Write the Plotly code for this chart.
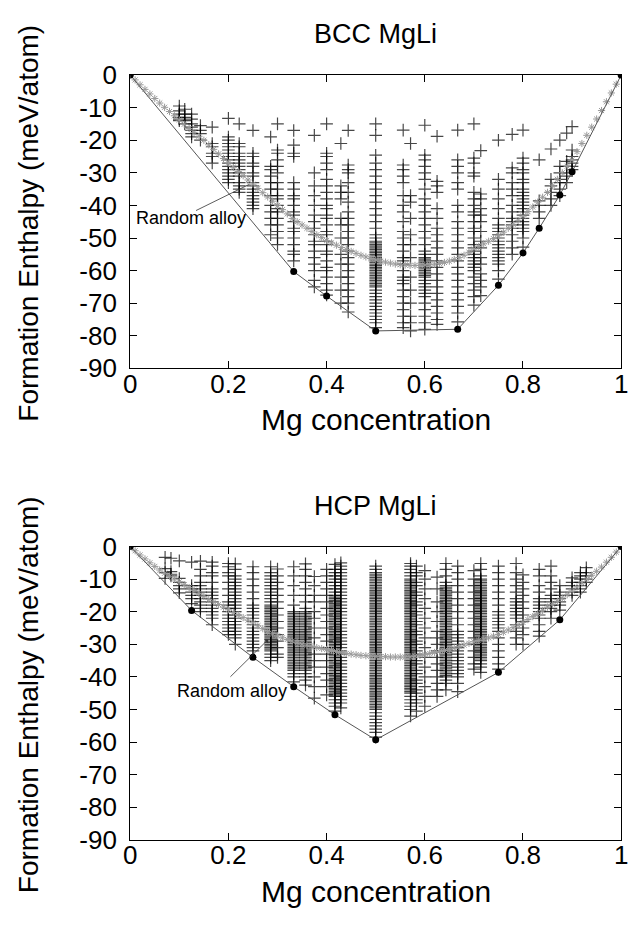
import plotly.graph_objects as go

# ---------------- data ----------------
x_ticks = [0, 0.2, 0.4, 0.6, 0.8, 1]
x_tick_text = ["0", "0.2", "0.4", "0.6", "0.8", "1"]
y_ticks = [0, -10, -20, -30, -40, -50, -60, -70, -80, -90]
y_tick_text = ["0", "-10", "-20", "-30", "-40", "-50", "-60", "-70", "-80", "-90"]

# BCC: structure energies by Mg concentration
bcc_conc = [0.100, 0.111, 0.125, 0.143, 0.167, 0.200, 0.222, 0.250, 0.286, 0.300,
            0.333, 0.375, 0.400, 0.429, 0.444, 0.500, 0.556, 0.571, 0.600, 0.625,
            0.667, 0.700, 0.714, 0.750, 0.778, 0.800, 0.833, 0.857, 0.875, 0.889, 0.900]
bcc_energies = [
    [-9.5, -11, -12, -13, -13.5, -14],
    [-10.5, -12, -13, -14, -15],
    [-12, -13.5, -15, -16, -17, -18, -19],
    [-15.5, -17, -18, -20],
    [-16, -21, -22, -24, -25, -27],
    [-13.3, -19, -20, -21, -22, -23, -24, -25, -26, -27, -28, -29, -30, -31, -32, -33],
    [-15, -21, -22, -24, -25, -26, -27, -28, -29, -30, -31, -33, -34, -35, -36],
    [-17, -24, -25, -27, -28, -30, -31, -33, -34, -35, -36, -37, -38, -39, -40, -41],
    [-19, -28, -29, -31, -33, -35, -37, -40, -42, -44, -46, -49],
    [-15, -23, -24, -26, -28, -30, -33, -35, -37, -38, -40, -41, -42, -44, -46, -48, -50, -52],
    [-17, -21.5, -24, -25, -33, -35, -37, -38, -40, -42, -43, -45, -47, -48, -50, -52, -54, -55, -57],
    [-18.5, -30, -34, -37, -40, -43, -45, -47, -49, -51, -52, -54, -56, -58, -60, -63, -65],
    [-15, -24, -25, -27, -29, -32, -34, -36, -38, -40, -41, -43, -44, -46, -48, -49, -51, -52,
     -54, -55, -57, -59, -60, -62, -64, -66, -67.5],
    [-21, -34, -36, -38, -44, -46, -50, -55, -58, -62, -66, -70],
    [-17, -27.6, -29, -30, -33, -36, -39, -42, -44, -46, -48, -50, -52, -54, -56, -58, -60, -62,
     -64, -66, -68, -70, -72.7],
    [-15, -18.5, -24.6, -27, -29, -31, -33, -35, -37, -39, -41, -43, -45, -47, -49, -50, -51,
     -51.5, -52, -52.5, -53, -53.5, -54, -54.5, -55, -55.5, -56, -56.5, -57, -57.5, -58, -58.5,
     -59, -59.5, -60, -60.5, -61, -61.5, -62, -62.5, -63, -63.5, -64, -64.5, -65, -66, -67,
     -68, -69, -70, -71, -72, -73, -74, -75, -76, -77.5],
    [-16.9, -27.6, -29, -31, -33, -37, -40, -42, -45, -48, -50, -52, -54, -56, -57, -58, -60,
     -62, -63, -64, -66, -68, -70, -72, -74, -76, -77.5],
    [-21, -37, -39, -44, -49, -52, -56, -62, -66, -70, -74, -76, -78.5],
    [-15.4, -24.6, -26, -28, -30, -32, -35, -38, -40, -42, -44, -46, -48, -50, -52, -54, -55,
     -56, -56.5, -57, -57.5, -58, -58.5, -59, -59.5, -60, -60.5, -61, -61.5, -62, -63, -64,
     -65, -66, -67, -68, -70, -72, -74, -76, -78],
    [-18.8, -32.6, -34, -36, -41, -44, -47, -49, -51, -53, -55, -57, -59, -61, -63, -65, -67,
     -69, -71, -73, -75, -76.5],
    [-16.9, -26, -28, -30, -33, -35, -40, -42, -45, -47, -49, -51, -53, -55, -57, -59, -61, -63,
     -65, -67, -69, -71, -73, -75.7],
    [-15, -25.5, -27, -30, -31, -36, -38, -40, -42, -43, -45, -47, -48, -50, -52, -53, -54, -55,
     -56, -57, -58, -59, -60, -62, -64, -66, -68, -70.6],
    [-23.2, -36.5, -38, -41, -43, -45, -48, -51, -53, -56, -58, -61, -63, -65, -67.7],
    [-20, -32, -35, -38, -41, -44, -46, -47, -48, -49, -50, -51, -52, -53, -54, -55, -56, -57,
     -58, -60, -62.6],
    [-18.2, -28.5, -30, -33, -35, -37, -40, -42, -44, -45, -46, -47, -49, -51, -53, -55],
    [-16.9, -25.5, -27, -29, -30, -32, -33, -35, -36, -37, -38, -39, -40, -41, -42, -43, -44,
     -45, -46, -47, -48, -50, -52.8],
    [-26, -38.6, -40, -42, -44],
    [-22.7, -32, -34, -36, -38, -40],
    [-20, -28, -30, -32, -33, -35, -37],
    [-17.8, -26.5, -28, -30, -31, -33],
    [-15.8, -23, -25, -26, -27, -28, -29],
]
bcc_hull_x = [0, 0.333, 0.4, 0.5, 0.667, 0.75, 0.8, 0.833, 0.875, 0.9, 1]
bcc_hull_e = [0, -60.3, -67.8, -78.5, -78.0, -64.5, -54.6, -47.0, -36.8, -29.7, 0]

rand_x = [i / 100 for i in range(101)]
bcc_rand_e = [0, -1.5, -3.0, -4.4, -5.8, -7.2, -8.6, -9.9, -11.2, -12.5,
              -13.8, -15.1, -16.4, -17.6, -18.8, -20.0, -21.4, -22.8, -24.2, -25.6,
              -27.0, -28.3, -29.6, -30.9, -32.2, -33.5, -34.8, -36.1, -37.4, -38.7,
              -40.0, -41.3, -42.6, -44.0, -45.0, -46.0, -47.0, -48.0, -49.0, -49.9,
              -50.8, -51.5, -52.2, -52.9, -53.5, -54.1, -54.7, -55.3, -55.8, -56.3,
              -56.7, -57.1, -57.4, -57.7, -58.0, -58.2, -58.3, -58.4, -58.4, -58.4,
              -58.3, -58.2, -58.0, -57.8, -57.5, -57.1, -56.6, -56.0, -55.3, -54.4,
              -53.4, -52.6, -51.8, -51.0, -50.2, -49.3, -48.2, -47.0, -45.8, -44.6,
              -43.3, -41.9, -40.5, -39.0, -37.5, -36.0, -34.0, -32.0, -30.0, -28.0,
              -26.0, -23.5, -21.0, -18.5, -16.0, -13.5, -10.9, -8.2, -5.5, -2.8, 0]

# HCP
hcp_conc = [0.071, 0.083, 0.100, 0.125, 0.143, 0.167, 0.200, 0.214, 0.250, 0.286, 0.300,
            0.333, 0.357, 0.375, 0.400, 0.417, 0.429, 0.500, 0.571, 0.583, 0.600, 0.625,
            0.643, 0.667, 0.700, 0.714, 0.750, 0.786, 0.800, 0.833, 0.857, 0.875, 0.900,
            0.917, 0.929]
hcp_energies = [
    [-3.3, -6.8, -8, -9.8],
    [-3.6, -7.7, -8.5, -9],
    [-4.4, -9.8, -11, -12, -13, -14.2],
    [-4.8, -12, -13, -14, -15, -16, -17.5],
    [-4.5, -7, -9, -11, -12, -13, -14, -15, -16, -17, -18, -19, -20],
    [-4.8, -6, -8, -9, -11, -13, -14, -15, -16, -17, -18, -19, -20, -21, -22, -24],
    [-5.2, -6.2, -8, -9, -11, -13, -15, -17, -18, -19, -20, -21, -22, -23, -24, -25, -26, -27],
    [-5.3, -7, -9, -10, -11, -12, -13, -14, -15, -16, -17, -18, -19, -20, -21, -22, -23, -24,
     -25, -26, -27, -28, -30],
    [-6.2, -8, -10, -12, -14, -16, -18, -19, -20, -21, -22, -23, -24, -25, -26, -27, -28, -29,
     -30, -31, -32],
    [-6.2, -8, -9, -10, -11, -12, -13, -14, -15, -16, -17, -18, -18.5, -19, -19.5, -20, -20.5,
     -21, -21.5, -22, -22.5, -23, -23.5, -24, -24.5, -25, -25.5, -26, -26.5, -27, -27.5, -28,
     -28.5, -29, -29.5, -30, -30.5, -31, -31.5, -32, -33, -34, -35],
    [-6.9, -9, -11, -13, -15, -17, -19, -21, -23, -25, -27, -29, -31, -33, -34],
    [-6.2, -9, -12, -15, -18, -20, -20.5, -21, -21.5, -22, -22.5, -23, -23.5, -24, -24.5, -25,
     -25.5, -26, -26.5, -27, -27.5, -28, -28.5, -29, -29.5, -30, -30.5, -31, -31.5, -32, -32.5,
     -33, -33.5, -34, -34.5, -35, -35.5, -36, -36.5, -37, -37.5, -38, -39, -40, -41.5],
    [-5.3, -7, -9, -11, -13, -15, -17, -19, -20, -20.5, -21, -21.5, -22, -22.5, -23, -23.5,
     -24, -24.5, -25, -25.5, -26, -26.5, -27, -27.5, -28, -28.5, -29, -29.5, -30, -30.5, -31,
     -31.5, -32, -32.5, -33, -33.5, -34, -34.5, -35, -35.5, -36, -36.5, -37, -37.5, -38, -39,
     -40, -41, -42.5],
    [-9.2, -12, -15, -17, -20, -22, -25, -28, -31, -33, -35, -37, -40, -43, -46.5],
    [-7, -9, -11, -13, -15, -17, -19, -21, -23, -25, -27, -29, -31, -33, -35, -37, -39, -41,
     -43, -45.5],
    [-5.5, -7, -8, -9, -10, -11, -12, -13, -14, -15, -15.5, -16, -16.5, -17, -17.5, -18,
     -18.5, -19, -19.5, -20, -20.5, -21, -21.5, -22, -22.5, -23, -23.5, -24, -24.5, -25, -25.5,
     -26, -26.5, -27, -27.5, -28, -28.5, -29, -29.5, -30, -30.5, -31, -31.5, -32, -32.5, -33,
     -33.5, -34, -34.5, -35, -35.5, -36, -36.5, -37, -37.5, -38, -38.5, -39, -39.5, -40, -40.5,
     -41, -41.5, -42, -42.5, -43, -43.5, -44, -44.5, -45, -45.5, -46, -47, -48, -49, -50.5],
    [-5, -6, -7, -8, -9, -10, -11, -12, -13, -14, -15, -16, -17, -18, -19, -20, -21, -22, -23,
     -24, -25, -26, -27, -28, -29, -30, -31, -32, -33, -34, -35, -36, -37, -38, -39, -40, -41,
     -42, -43, -44, -45, -46, -47, -48, -49.5],
    [-6, -7, -8, -8.5, -9, -9.5, -10, -10.5, -11, -11.5, -12, -12.5, -13, -13.5, -14, -14.5,
     -15, -15.5, -16, -16.5, -17, -17.5, -18, -18.5, -19, -19.5, -20, -20.5, -21, -21.5, -22,
     -22.5, -23, -23.5, -24, -24.5, -25, -25.5, -26, -26.5, -27, -27.5, -28, -28.5, -29, -29.5,
     -30, -30.5, -31, -31.5, -32, -32.5, -33, -33.5, -34, -34.5, -35, -35.5, -36, -36.5, -37,
     -37.5, -38, -38.5, -39, -39.5, -40, -40.5, -41, -41.5, -42, -42.5, -43, -43.5, -44, -44.5,
     -45, -45.5, -46, -46.5, -47, -47.5, -48, -48.5, -49, -49.5, -50, -51, -52, -53, -54, -55,
     -56, -57, -58.5],
    [-5.2, -6, -7, -8, -9, -10, -10.5, -11, -11.5, -12, -12.5, -13, -13.5, -14, -14.5, -15,
     -15.5, -16, -16.5, -17, -17.5, -18, -18.5, -19, -19.5, -20, -20.5, -21, -21.5, -22, -22.5,
     -23, -23.5, -24, -24.5, -25, -25.5, -26, -26.5, -27, -27.5, -28, -28.5, -29, -29.5, -30,
     -30.5, -31, -31.5, -32, -32.5, -33, -33.5, -34, -34.5, -35, -35.5, -36, -36.5, -37, -37.5,
     -38, -38.5, -39, -39.5, -40, -40.5, -41, -41.5, -42, -42.5, -43, -43.5, -44, -44.5, -45,
     -46, -47, -48, -49, -50, -52],
    [-6, -8, -9, -11, -12, -14, -15, -17, -18, -20, -21, -23, -24, -26, -27, -29, -30, -32,
     -33, -35, -36, -38, -39, -41, -42, -44, -45, -47, -48, -50.5],
    [-7.4, -10, -13, -16, -19, -22, -25, -28, -31, -34, -37, -40, -43, -46, -49],
    [-9.4, -13, -17, -20, -23, -26, -28, -30, -32, -34, -36, -38, -40, -42, -44, -46],
    [-5.2, -7, -9, -11, -12, -12.5, -13, -13.5, -14, -14.5, -15, -15.5, -16, -16.5, -17,
     -17.5, -18, -18.5, -19, -19.5, -20, -20.5, -21, -21.5, -22, -22.5, -23, -23.5, -24, -24.5,
     -25, -25.5, -26, -26.5, -27, -27.5, -28, -28.5, -29, -29.5, -30, -30.5, -31, -31.5, -32,
     -32.5, -33, -33.5, -34, -34.5, -35, -35.5, -36, -36.5, -37, -37.5, -38, -38.5, -39, -39.5,
     -40, -41, -42, -44],
    [-6, -8, -10, -12, -14, -16, -18, -20, -22, -24, -26, -27, -28, -29, -30, -31, -32, -33,
     -34, -35, -36, -37, -38, -39, -40, -42, -44.5],
    [-7.4, -10, -12, -14, -16, -18, -20, -22, -24, -26, -28, -30, -32, -34, -36, -37.6],
    [-5.2, -7, -9, -10, -10.5, -11, -11.5, -12, -12.5, -13, -13.5, -14, -14.5, -15, -15.5,
     -16, -16.5, -17, -17.5, -18, -18.5, -19, -19.5, -20, -20.5, -21, -21.5, -22, -22.5, -23,
     -23.5, -24, -24.5, -25, -25.5, -26, -26.5, -27, -27.5, -28, -28.5, -29, -29.5, -30, -30.5,
     -31, -31.5, -32, -32.5, -33, -33.5, -34, -34.5, -35, -36, -37, -38.6],
    [-6, -8, -10, -12, -14, -16, -18, -20, -21, -22, -23, -24, -25, -26, -28, -30, -32, -34,
     -36, -37.6],
    [-5.2, -8, -10, -12, -14, -16, -17, -18, -19, -20, -21, -22, -24, -26, -28, -30],
    [-8.7, -11, -13, -15, -17, -19, -21, -23, -25, -27, -30],
    [-7, -9, -12, -14, -16, -17, -18, -19, -20, -21, -22, -24, -26, -27.5],
    [-6, -9, -11, -13, -15, -16, -17, -18, -19, -20, -22],
    [-12, -14, -15, -16, -17, -18, -19.5],
    [-9.6, -11, -12, -13, -14, -15],
    [-8, -9, -10, -11, -12, -13, -14],
    [-6.5, -8, -9, -10, -11],
]
hcp_hull_x = [0, 0.125, 0.25, 0.333, 0.417, 0.5, 0.75, 0.875, 1]
hcp_hull_e = [0, -19.6, -34.0, -43.0, -51.6, -59.3, -38.6, -22.5, 0]

hcp_rand_e = [0, -1.3, -2.6, -3.8, -5.0, -6.1, -7.2, -8.2, -9.1, -10.0,
              -10.8, -11.7, -12.6, -13.5, -14.4, -15.3, -16.2, -17.0, -17.8, -18.6,
              -19.4, -20.2, -21.0, -21.8, -22.6, -23.4, -24.3, -25.2, -26.0, -26.8,
              -27.4, -28.0, -28.5, -29.0, -29.5, -29.9, -30.3, -30.7, -31.0, -31.3,
              -31.6, -31.9, -32.2, -32.5, -32.8, -33.0, -33.2, -33.4, -33.5, -33.6,
              -33.7, -33.8, -33.8, -33.9, -33.9, -33.9, -33.9, -33.8, -33.6, -33.4,
              -33.1, -32.8, -32.5, -32.2, -31.9, -31.5, -31.1, -30.7, -30.2, -29.7,
              -29.2, -28.8, -28.4, -28.0, -27.5, -27.0, -26.3, -25.6, -24.9, -24.1,
              -23.3, -22.4, -21.5, -20.6, -19.6, -18.6, -17.7, -16.8, -15.8, -14.8,
              -13.6, -12.4, -11.2, -10.0, -8.8, -7.6, -6.3, -4.8, -3.3, -1.7, 0]

# ---------------- figure ----------------
FONT = "Liberation Sans, Arial, Helvetica, sans-serif"
fig = go.Figure()


def flatten(conc, energies):
    xs, ys = [], []
    for c, es in zip(conc, energies):
        for e in es:
            xs.append(c)
            ys.append(e)
    return xs, ys


panels = [
    ("x", "y", bcc_conc, bcc_energies, bcc_hull_x, bcc_hull_e, bcc_rand_e),
    ("x2", "y2", hcp_conc, hcp_energies, hcp_hull_x, hcp_hull_e, hcp_rand_e),
]
for xa, ya, conc, energies, hx, he, re_ in panels:
    sx, sy = flatten(conc, energies)
    fig.add_trace(go.Scatter(
        x=sx, y=sy, xaxis=xa, yaxis=ya, mode="markers", showlegend=False,
        marker=dict(symbol="cross-thin-open", size=9, color="rgba(0,0,0,0.72)",
                    line=dict(width=1.2, color="rgba(0,0,0,0.72)")),
    ))
    fig.add_trace(go.Scatter(
        x=rand_x, y=re_, xaxis=xa, yaxis=ya, mode="markers", showlegend=False,
        marker=dict(symbol="asterisk-open", size=6, color="#9a9a9a",
                    line=dict(width=1, color="#9a9a9a")),
    ))
    fig.add_trace(go.Scatter(
        x=hx, y=he, xaxis=xa, yaxis=ya, mode="lines+markers", showlegend=False,
        line=dict(color="#555555", width=1),
        marker=dict(symbol="circle", size=7, color="black"),
    ))

x_dom = [126 / 636, 628 / 636]
axis_common = dict(
    showgrid=False, zeroline=False, showline=True, linecolor="black", linewidth=1.2,
    mirror="ticks", ticks="inside", ticklen=7, tickwidth=1, tickcolor="black",
    tickfont=dict(family=FONT, size=26, color="black"),
)
fig.update_layout(
    width=636, height=943,
    margin=dict(l=0, r=0, t=0, b=0),
    paper_bgcolor="white", plot_bgcolor="white",
    font=dict(family=FONT, color="black"),
    xaxis=dict(domain=x_dom, anchor="y", range=[0, 1], tickvals=x_ticks,
               ticktext=x_tick_text, ticklabelstandoff=-8, **axis_common),
    yaxis=dict(domain=[(943 - 365) / 943, (943 - 62) / 943], anchor="x", range=[-90, 0],
               tickvals=y_ticks, ticktext=y_tick_text, ticklabelstandoff=7, **axis_common),
    xaxis2=dict(domain=x_dom, anchor="y2", range=[0, 1], tickvals=x_ticks,
                ticktext=x_tick_text, ticklabelstandoff=-8, **axis_common),
    yaxis2=dict(domain=[(943 - 852) / 943, (943 - 549) / 943], anchor="x2", range=[-90, 0],
                tickvals=y_ticks, ticktext=y_tick_text, ticklabelstandoff=7, **axis_common),
)

center = dict(xanchor="center", yanchor="middle", showarrow=False)
ttl = dict(family=FONT, size=27, color="black")
xt = dict(family=FONT, size=30, color="black")
yt = dict(family=FONT, size=28, color="black")
fig.add_annotation(text="BCC MgLi", xref="paper", yref="paper", x=377 / 636, y=1 - 20 / 943,
                   font=ttl, **center)
fig.add_annotation(text="HCP MgLi", xref="paper", yref="paper", x=377 / 636, y=1 - 507 / 943,
                   font=ttl, **center)
fig.add_annotation(text="Mg concentration", xref="paper", yref="paper", x=377 / 636,
                   y=1 - 418 / 943, font=xt, **center)
fig.add_annotation(text="Mg concentration", xref="paper", yref="paper", x=377 / 636,
                   y=1 - 905 / 943, font=xt, **center)
fig.add_annotation(text="Formation Enthalpy (meV/atom)", xref="paper", yref="paper",
                   x=22 / 636, y=1 - 215 / 943, textangle=-90, font=yt, **center)
fig.add_annotation(text="Formation Enthalpy (meV/atom)", xref="paper", yref="paper",
                   x=22 / 636, y=1 - 702 / 943, textangle=-90, font=yt, **center)

lab = dict(family=FONT, size=18, color="black")
# Random alloy labels and pointers
fig.add_annotation(text="Random alloy", xref="x", yref="y", x=0.1235, y=-44.0,
                   font=lab, **center)
fig.add_annotation(text="", xref="x", yref="y", axref="x", ayref="y",
                   x=0.243, y=-33.5, ax=0.131, ay=-41.8, showarrow=True,
                   arrowhead=0, arrowwidth=0.8, arrowcolor="#333333")
fig.add_annotation(text="Random alloy", xref="x2", yref="y2", x=0.207, y=-44.2,
                   font=lab, **center)
fig.add_annotation(text="", xref="x2", yref="y2", axref="x2", ayref="y2",
                   x=0.281, y=-28.5, ax=0.201, ay=-40.4, showarrow=True,
                   arrowhead=1, arrowsize=1.2, arrowwidth=0.8, arrowcolor="#333333")

fig.write_html("out.html")
